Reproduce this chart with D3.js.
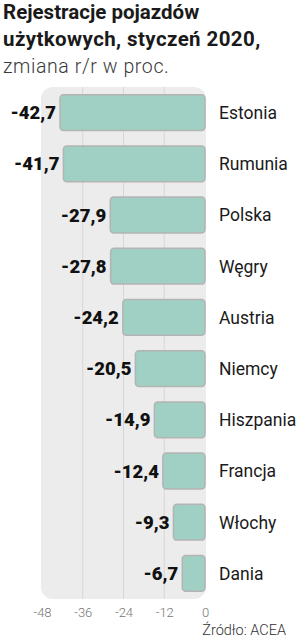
<!DOCTYPE html>
<html><head><meta charset="utf-8">
<script src="https://cdn.jsdelivr.net/npm/d3@7"></script>
<style>
html,body{margin:0;padding:0;background:#fff;}
svg{display:block;}
</style></head>
<body>
<svg id="chart" width="298" height="640"></svg>
<script>
const countries = ["Estonia","Rumunia","Polska","Węgry","Austria","Niemcy","Hiszpania","Francja","Włochy","Dania"];
const values = [-42.7,-41.7,-27.9,-27.8,-24.2,-20.5,-14.9,-12.4,-9.3,-6.7];
const ticks = [-48,-36,-24,-12,0];
const gridTicks = [-36,-24,-12];
const titleLines = ["Rejestracje pojazdów","użytkowych, styczeń 2020,"];
const subtitle = "zmiana r/r w proc.";
const source = "Źródło: ACEA";

const svg = d3.select("#chart");
const x = d3.scaleLinear().domain([-48,0]).range([42,205]);
const y = d3.scaleBand().domain(countries).range([87,599]).paddingInner(0.3).paddingOuter(0.15);

const font = "Roboto, 'DejaVu Sans', sans-serif";
svg.selectAll("text.title").data(titleLines).join("text")
  .attr("class","title")
  .attr("x",3).attr("y",(d,i)=>19+i*27)
  .attr("font-family",font).attr("font-weight",700).attr("font-size",20.5)
  .attr("letter-spacing",(d,i)=>i===1?0.4:0)
  .attr("fill","#1a1a1a").text(d=>d);
svg.append("text").attr("x",3).attr("y",73)
  .attr("font-family",font).attr("font-weight",300).attr("font-size",19.5)
  .attr("letter-spacing",0.6)
  .attr("fill","#3a3a3a").text(subtitle);

// panel
svg.append("rect").attr("x",x(-48)-1).attr("y",y.range()[0]).attr("width",x(0)-x(-48)+2)
  .attr("height",y.range()[1]-y.range()[0]).attr("rx",12).attr("fill","#ececec");

svg.selectAll("line.grid").data(gridTicks).join("line")
  .attr("class","grid")
  .attr("x1",d=>x(d)).attr("x2",d=>x(d))
  .attr("y1",y.range()[0]).attr("y2",y.range()[1])
  .attr("stroke","#d6d6d6").attr("stroke-width",1);

// bars
const idx = d3.range(countries.length);
svg.selectAll("rect.bar").data(idx).join("rect")
  .attr("class","bar")
  .attr("x",i=>x(values[i])).attr("y",i=>y(countries[i]))
  .attr("width",i=>x(0)-x(values[i])).attr("height",y.bandwidth())
  .attr("rx",3.5)
  .attr("fill","#a0cfc3").attr("stroke","#b4b4b4").attr("stroke-width",1.5);

// value labels
svg.selectAll("text.val").data(idx).join("text")
  .attr("class","val")
  .attr("x",i=>x(values[i])-4).attr("y",i=>y(countries[i])+y.bandwidth()/2)
  .attr("dy","0.36em").attr("text-anchor","end")
  .attr("font-family",font).attr("font-weight",900).attr("font-size",18.5)
  .attr("fill","#111")
  .text(i=>d3.format(".1f")(values[i]).replace(".",",").replace("−","-"));

// country labels
svg.selectAll("text.cat").data(countries).join("text")
  .attr("class","cat")
  .attr("x",219).attr("y",d=>y(d)+y.bandwidth()/2)
  .attr("dy","0.36em")
  .attr("font-family",font).attr("font-weight",400).attr("font-size",17.5)
  .attr("fill","#1a1a1a").text(d=>d);

// x axis
const axis = svg.append("g").attr("transform","translate(0,"+(y.range()[1])+")")
  .call(d3.axisBottom(x).tickValues(ticks).tickSize(0).tickPadding(9).tickFormat(d=>String(d)));
axis.select(".domain").remove();
axis.selectAll("text").attr("font-family",font).attr("font-weight",300)
  .attr("font-size",13).attr("fill","#777");

svg.append("text").attr("x",286).attr("y",635).attr("text-anchor","end")
  .attr("font-family",font).attr("font-weight",300).attr("font-size",14.5)
  .attr("fill","#333").text(source);
</script>
</body></html>
